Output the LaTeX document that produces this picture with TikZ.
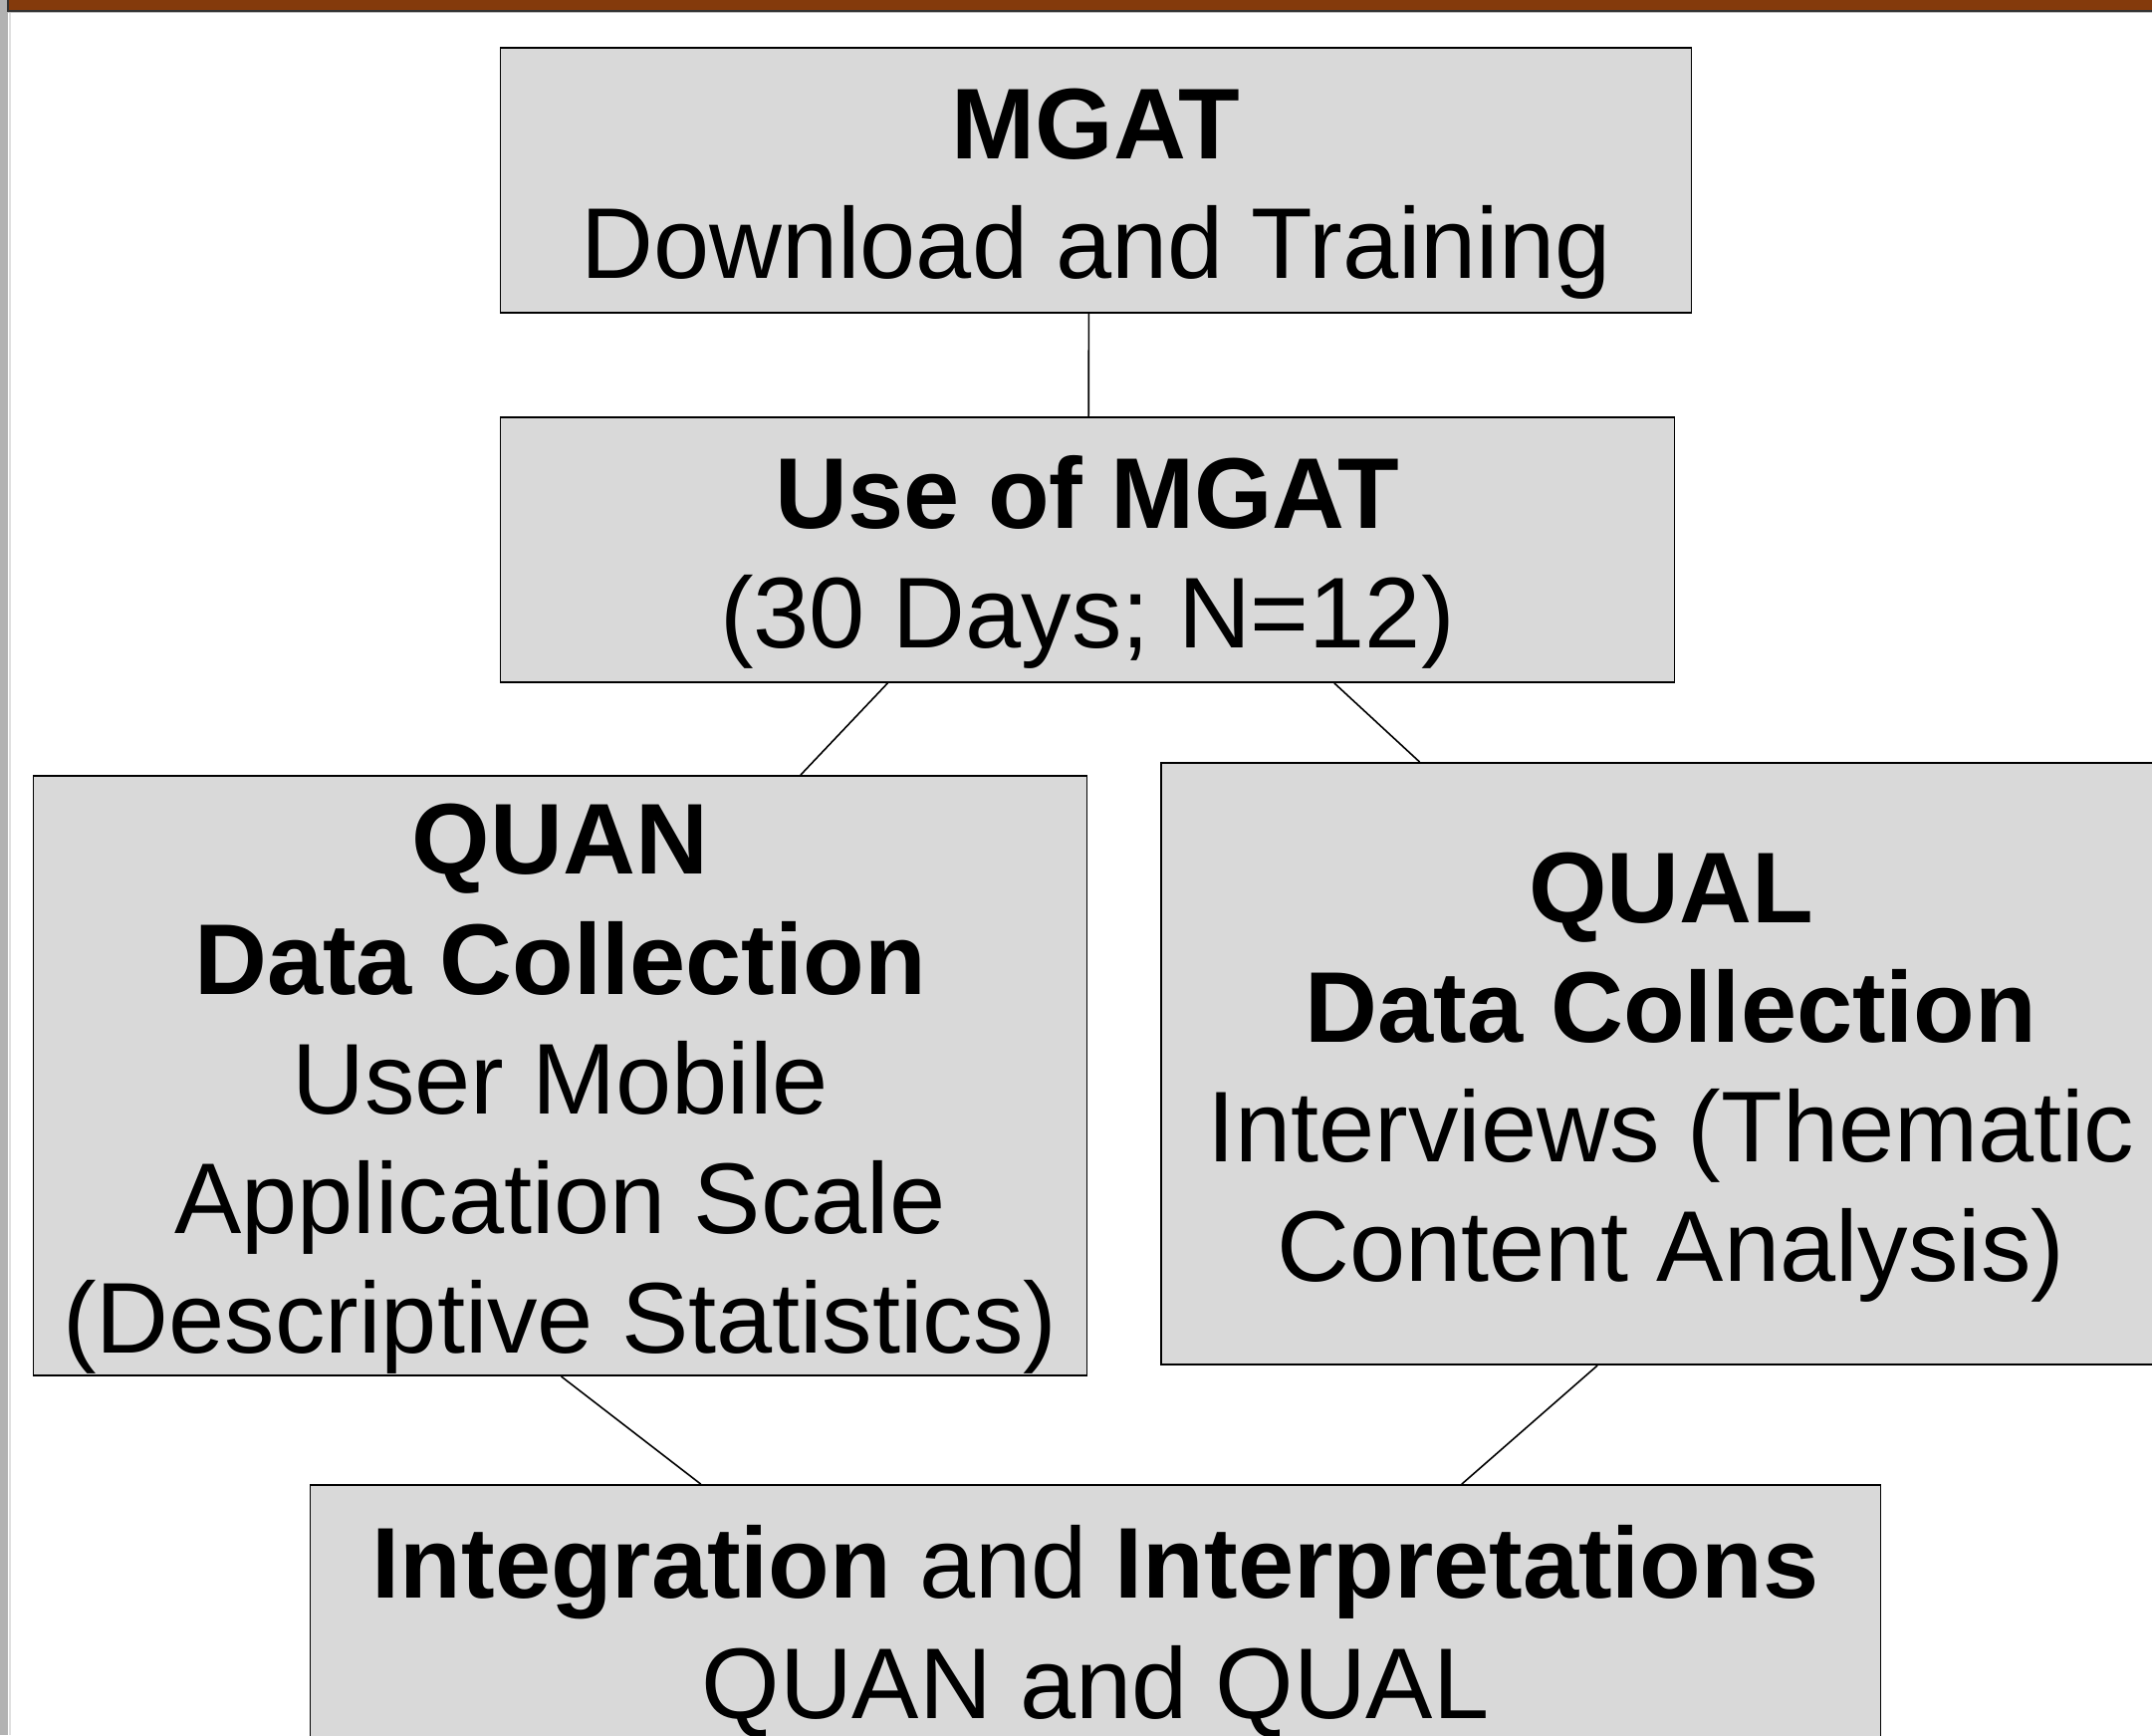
\documentclass[tikz,border=0pt]{standalone}
\usepackage{fontspec}
\setmainfont{Liberation Sans}
\usetikzlibrary{calc}
\definecolor{boxgray}{HTML}{D9D9D9}
\definecolor{slidebrown}{HTML}{843A0C}
\newcommand{\stagetop}{\rule{0pt}{27.8pt}}

\begin{document}
\begin{tikzpicture}[x=0.01cm,y=-0.01cm,
    stage/.style={draw=black, line width=0.45pt, fill=boxgray, align=center,
      inner sep=0pt, font=\fontsize{28.7}{34.2}\selectfont},
    link/.style={draw=black, line width=0.45pt}]
    \clip (0,0) rectangle (2161,1742);
    \fill[white] (0,0) rectangle (2161,1742);
    % slide frame
    \fill[slidebrown] (8,0) rectangle (2161,10);
    \fill[black!80] (8,10) rectangle (2161,12);
    \fill[black!25] (8,12) rectangle (2161,13);
    \fill[black!30] (0,0) rectangle (8,1742);
    \fill[black!80] (7,0) rectangle (9,12);
    \fill[black!12] (9,13) rectangle (11,1742);

    \node[stage, minimum width=11.95cm, minimum height=2.66cm] (download) at (1100.5,181)
        {\stagetop\textbf{MGAT}\\Download and Training};
    \node[stage, minimum width=11.78cm, minimum height=2.66cm] (use) at (1092,552)
        {\stagetop\textbf{Use of MGAT}\\(30 Days; N=12)};
    \node[stage, minimum width=10.57cm, minimum height=6.02cm] (quan) at (562.5,1080)
        {\stagetop\textbf{QUAN}\\\textbf{Data Collection}\\User Mobile\\Application Scale\\(Descriptive Statistics)};
    \node[stage, minimum width=10.24cm, minimum height=6.04cm] (qual) at (1678,1068)
        {\stagetop\textbf{QUAL}\\\textbf{Data Collection}\\Interviews (Thematic\\Content Analysis)};
    \node[stage, minimum width=15.76cm, minimum height=2.69cm] (integ) at (1100,1625.5)
        {\stagetop\textbf{Integration} and \textbf{Interpretations}\\QUAN and QUAL};

    % connectors
    \draw[link] ($(download.south west)!.494!(download.south east)$) -- ($(use.north west)!.501!(use.north east)$);
    \draw[link] ($(use.south west)!.33!(use.south east)$) -- ($(quan.north west)!.728!(quan.north east)$);
    \draw[link] ($(use.south west)!.71!(use.south east)$) -- ($(qual.north west)!.254!(qual.north east)$);
    \draw[link] ($(quan.south west)!.501!(quan.south east)$) -- ($(integ.north west)!.249!(integ.north east)$);
    \draw[link] ($(qual.south west)!.428!(qual.south east)$) -- ($(integ.north west)!.733!(integ.north east)$);
\end{tikzpicture}
\end{document}
